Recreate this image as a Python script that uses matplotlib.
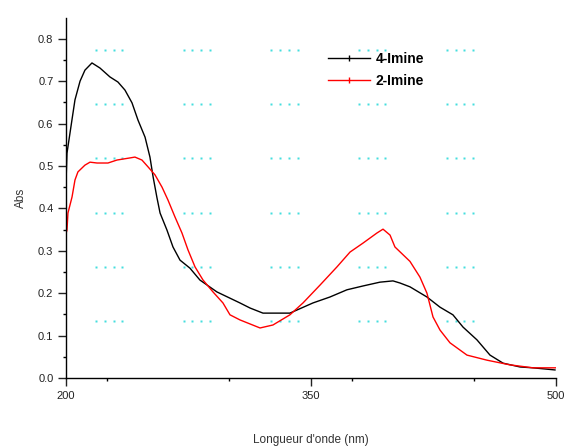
import numpy as np
import matplotlib
matplotlib.use("Agg")
import matplotlib.pyplot as plt
from matplotlib.ticker import MultipleLocator
from matplotlib.lines import Line2D

plt.rcParams['font.family'] = ['Liberation Sans', 'DejaVu Sans']

# UV-Vis absorption spectra
wl_4imine = [200, 200.6, 203.7, 205.5, 208.6, 211.6, 215.9, 220.8, 226.9, 231.8,
             236.1, 240.4, 244.1, 248.4, 251.4, 253.3, 255.7, 257.6, 261.8, 265.5,
             269.8, 275.9, 282.0, 292.4, 306.5, 312.7, 320.6, 337.1, 351.2, 361.6,
             372.0, 381.8, 392.2, 400.2, 404.5, 410.6, 421.0, 429.0, 436.9, 443.1,
             451.6, 459.6, 467.6, 478.0, 485.9, 499.4]
abs_4imine = [0.46, 0.53, 0.61, 0.656, 0.70, 0.726, 0.743, 0.731, 0.71, 0.698,
              0.679, 0.649, 0.608, 0.568, 0.521, 0.475, 0.425, 0.389, 0.349, 0.309,
              0.278, 0.259, 0.231, 0.203, 0.177, 0.165, 0.153, 0.153, 0.177, 0.191,
              0.208, 0.217, 0.226, 0.229, 0.224, 0.215, 0.191, 0.167, 0.149, 0.12,
              0.09, 0.054, 0.035, 0.026, 0.024, 0.019]

wl_2imine = [200, 200.6, 201.2, 203.7, 205.5, 207.3, 211.6, 214.7, 219.0, 225.7,
             231.2, 239.2, 242.2, 246.5, 250.2, 254.5, 258.8, 262.4, 266.7, 271.0,
             274.7, 279.0, 283.9, 290.0, 296.1, 300.4, 306.5, 318.8, 326.7, 337.1,
             345.1, 355.5, 365.9, 373.9, 381.8, 390.4, 394.1, 398.4, 401.4, 410.6,
             416.7, 421.0, 424.7, 429.0, 435.1, 445.5, 457.8, 471.8, 485.9, 500]
abs_2imine = [0.34, 0.349, 0.389, 0.427, 0.467, 0.486, 0.502, 0.509, 0.507, 0.507,
              0.514, 0.519, 0.521, 0.514, 0.498, 0.479, 0.45, 0.42, 0.38, 0.342,
              0.302, 0.262, 0.231, 0.203, 0.177, 0.149, 0.137, 0.118, 0.125, 0.149,
              0.177, 0.219, 0.262, 0.297, 0.318, 0.342, 0.351, 0.337, 0.309, 0.275,
              0.238, 0.2, 0.144, 0.113, 0.083, 0.054, 0.042, 0.031, 0.024, 0.024]

series_labels = ["4-Imine", "2-Imine"]
x_ticks = [200, 350, 500]
y_ticks = [0.0, 0.1, 0.2, 0.3, 0.4, 0.5, 0.6, 0.7, 0.8]

fig = plt.figure(figsize=(5.66, 4.48), dpi=100)
ax = fig.add_axes([0.1166, 0.15625, 0.8657, 0.8036])

# faint cyan dotted pattern in the background
for i in range(5):
    for j in range(6):
        x0 = 0.061 + i * 0.179
        y0 = 0.912 - j * 0.151
        xs = x0 + np.arange(4) * 0.018
        ax.plot(xs, [y0] * 4, transform=ax.transAxes, ls='none', marker='s',
                ms=2.0, mec='none', mfc='#44dede', zorder=0)

ax.plot(wl_4imine, abs_4imine, color='black', lw=1.0, label=series_labels[0])
ax.plot(wl_2imine, abs_2imine, color='red', lw=1.0, label=series_labels[1])

ax.set_xlim(200, 500)
ax.set_ylim(0, 0.849)
ax.set_xticks(x_ticks)
ax.set_xticklabels([str(v) for v in x_ticks])
ax.xaxis.set_minor_locator(MultipleLocator(75))
ax.set_yticks(y_ticks)
ax.set_yticklabels([f"{v:.1f}" for v in y_ticks])
ax.yaxis.set_minor_locator(MultipleLocator(0.05))

for side in ('top', 'right'):
    ax.spines[side].set_visible(False)
ax.spines['left'].set_linewidth(1.0)
ax.spines['bottom'].set_linewidth(1.0)
ax.tick_params(which='major', direction='out', length=6, width=1, labelsize=8,
               colors='#222222', pad=3)
ax.tick_params(which='minor', direction='out', length=2, width=1)

ax.set_xlabel("Longueur d'onde (nm)", fontsize=8.5, labelpad=24, color='#333333')
ax.set_ylabel("Abs", fontsize=8.5, labelpad=8, color='#333333')

handles = [Line2D([], [], color='black', lw=1.0, marker='|', ms=4),
           Line2D([], [], color='red', lw=1.0, marker='|', ms=4)]
ax.legend(handles, series_labels, loc='upper left',
          bbox_to_anchor=(0.51, 0.94), frameon=False,
          prop={'weight': 'bold', 'size': 10}, handlelength=3.0,
          handletextpad=0.4, labelspacing=0.55)

fig.savefig("out.png", dpi=100)
